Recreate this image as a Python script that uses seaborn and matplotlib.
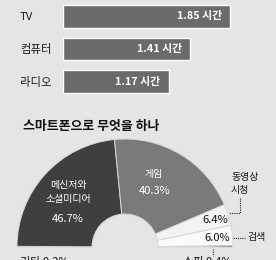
import matplotlib
matplotlib.use("Agg")
import matplotlib.pyplot as plt
import seaborn as sns
import pandas as pd

# ---- data ----
media = ["TV", "컴퓨터", "라디오"]
hours = [1.85, 1.41, 1.17]

uses = ["기타", "메신저와\n소셜미디어", "게임", "동영상\n시청", "검색", "쇼핑"]
shares = [0.2, 46.7, 40.3, 6.4, 6.0, 0.4]
title = "스마트폰으로 무엇을 하나"

sns.set_theme(style="white")
plt.rcParams["font.family"] = ["Noto Sans CJK KR", "DejaVu Sans"]

BG = "#e5e5e5"
W, H = 276, 260
fig = plt.figure(figsize=(W / 100, H / 100), dpi=100, facecolor=BG)

def fx(px):
    return px / W

def fy(py):
    return (H - py) / H

# ---- bar chart ----
bar_df = pd.DataFrame({"media": media, "hours": hours})
bax = fig.add_axes([fx(63), fy(98), fx(2.0 * 90.3), 98 / H])
bax.set_facecolor("none")
sns.barplot(data=bar_df, x="hours", y="media", orient="h", color="#6b6b6b",
            saturation=1, width=0.69, ax=bax)
bax.set_xlim(0, 2.0)
bax.set_ylim(2.5, -0.5)
bax.set_xlabel("")
bax.set_ylabel("")
bax.set_xticks([])
for s in bax.spines.values():
    s.set_visible(False)
bax.tick_params(axis="y", length=0, pad=31, labelsize=8.2, labelcolor="#1a1a1a")
for lab in bax.get_yticklabels():
    lab.set_ha("left")
for i, v in enumerate(hours):
    bax.text(v - 0.09, i, f"{v:.2f} 시간", ha="right", va="center",
             color="white", fontsize=7.8, fontweight="bold")

# ---- title ----
fig.text(fx(23), fy(126), title, ha="left", va="center", fontsize=9.3,
         fontweight="bold", color="#111111")

# ---- half donut ----
cx, cy, R = 125, 247, 108
pax = fig.add_axes([fx(cx - R), fy(cy + R), fx(2 * R), 2 * R / H])
colors = ["#2a2a2a", "#3f3f3f", "#7a7a7a", "#f3f3f3", "#fbfbfb", "#111111", "none"]
vals = shares + [sum(shares)]
wedges, _ = pax.pie(vals, colors=colors, startangle=180, counterclock=False,
                    radius=1.0,
                    wedgeprops=dict(width=1 - 33 / 108, edgecolor="#d8d8d8",
                                    linewidth=0.7))
wedges[-1].set_visible(False)
pax.set_xlim(-1, 1)
pax.set_ylim(-1, 1)
pax.set_aspect("equal")
pax.axis("off")

# labels (pixel positions)
def ftxt(px, py, s, **kw):
    fig.text(fx(px), fy(py), s, **kw)

kw_w = dict(color="white", ha="center", va="center")
ftxt(68, 192, uses[1], fontsize=7.2, linespacing=1.45, **kw_w)
ftxt(68, 219, f"{shares[1]}%", fontsize=8, **kw_w)
ftxt(154, 174, uses[2], fontsize=7.2, **kw_w)
ftxt(155, 191, f"{shares[2]}%", fontsize=8, **kw_w)

ftxt(231, 183.5, uses[3], fontsize=7.2, ha="left", va="center",
     color="#1a1a1a", linespacing=1.45)
ftxt(228, 220, f"{shares[3]}%", fontsize=8, ha="right", va="center", color="#111111")
ftxt(230, 238, f"{shares[4]}%", fontsize=8, ha="right", va="center", color="#111111")
ftxt(247, 237, uses[4], fontsize=7.2, ha="left", va="center", color="#1a1a1a")
ftxt(183, 256.5, f"{uses[5]} {shares[5]}%", fontsize=8, ha="left", va="top", color="#111111")
ftxt(20, 256.5, f"{uses[0]} {shares[0]}%", fontsize=8, ha="left", va="top", color="#111111")

# dotted leaders
lkw = dict(color="#222222", linewidth=0.8, linestyle=(0, (1, 1)))
fig.add_artist(plt.Line2D([fx(240), fx(240), fx(229)], [fy(198), fy(213), fy(213)], **lkw))
fig.add_artist(plt.Line2D([fx(233), fx(245)], [fy(238), fy(238)], **lkw))
fig.add_artist(plt.Line2D([fx(213), fx(213)], [fy(249), fy(256)], **lkw))

fig.savefig("out.png", dpi=100, facecolor=BG)
